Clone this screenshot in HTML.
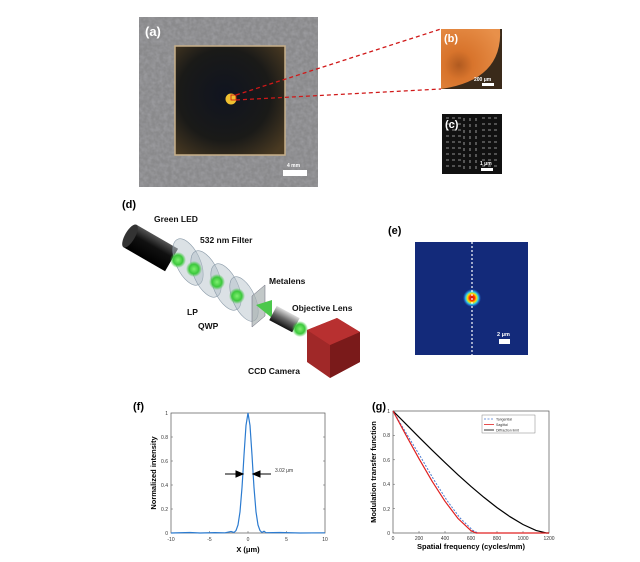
<!DOCTYPE html>
<html><head><meta charset="utf-8"><style>
html,body{margin:0;padding:0;background:#fff;}
svg{display:block;font-family:"Liberation Sans",sans-serif;}
</style></head><body>
<svg width="640" height="562" viewBox="0 0 640 562" xmlns="http://www.w3.org/2000/svg">
<defs>
<filter id="noise" x="0" y="0" width="100%" height="100%">
<feTurbulence type="fractalNoise" baseFrequency="0.25" numOctaves="2" seed="3"/>
<feColorMatrix type="matrix" values="0 0 0 0 0.35  0 0 0 0 0.35  0 0 0 0 0.37  1.4 0 0 0 -0.45"/>
</filter>
<radialGradient id="sample" cx="0.45" cy="0.45" r="0.7">
<stop offset="0" stop-color="#101420"/><stop offset="0.6" stop-color="#1a1a18"/><stop offset="1" stop-color="#4a3a22"/>
</radialGradient>
<radialGradient id="orange" cx="0.3" cy="0.6" r="0.8">
<stop offset="0" stop-color="#b05a20"/><stop offset="0.3" stop-color="#d8742c"/><stop offset="1" stop-color="#e8904a"/>
</radialGradient>
<radialGradient id="spot" cx="0.5" cy="0.5" r="0.5">
<stop offset="0" stop-color="#c01010"/><stop offset="0.3" stop-color="#ff3000"/><stop offset="0.5" stop-color="#ffe000"/><stop offset="0.7" stop-color="#30d0e0"/><stop offset="0.85" stop-color="#2060c0"/><stop offset="1" stop-color="#132a7a"/>
</radialGradient>
<radialGradient id="green" cx="0.5" cy="0.5" r="0.5">
<stop offset="0" stop-color="#7ff070"/><stop offset="0.6" stop-color="#3cc83c"/><stop offset="1" stop-color="#3cc83c" stop-opacity="0"/>
</radialGradient>
<linearGradient id="tube" x1="0" y1="0" x2="0" y2="1">
<stop offset="0" stop-color="#555"/><stop offset="0.4" stop-color="#111"/><stop offset="1" stop-color="#000"/>
</linearGradient>
<linearGradient id="tube2" x1="0" y1="0" x2="0" y2="1">
<stop offset="0" stop-color="#ddd"/><stop offset="0.5" stop-color="#666"/><stop offset="1" stop-color="#111"/>
</linearGradient>
</defs>

<!-- (a) -->
<rect x="139" y="17" width="179" height="170" fill="#8a8a8c"/>
<rect x="139" y="17" width="179" height="170" filter="url(#noise)"/>
<rect x="175" y="46" width="110" height="109" fill="url(#sample)" stroke="#c8b08a" stroke-width="1.5"/>
<circle cx="231" cy="99" r="5.5" fill="#f0c030"/>
<rect x="231" y="95" width="5" height="5" fill="none" stroke="#d01010" stroke-width="0.8"/>
<text x="145" y="36" font-size="13" font-weight="bold" fill="#fff">(a)</text>
<text x="287" y="167" font-size="5" font-weight="bold" fill="#fff">4 mm</text>
<rect x="283" y="170" width="24" height="6" fill="#fff"/>
<line x1="236" y1="95" x2="441" y2="29" stroke="#d01818" stroke-width="1.3" stroke-dasharray="4,3"/>
<line x1="236" y1="100" x2="441" y2="89" stroke="#d01818" stroke-width="1.3" stroke-dasharray="4,3"/>

<!-- (b) -->
<rect x="441" y="29" width="61" height="60" fill="#3a2a1a"/>
<path d="M441,29 L500,29 Q503,80 441,89 Z" fill="url(#orange)"/>
<text x="444" y="42" font-size="11" font-weight="bold" fill="#fff">(b)</text>
<text x="474" y="81" font-size="5" font-weight="bold" fill="#fff">200 μm</text>
<rect x="482" y="83" width="12" height="3" fill="#fff"/>

<!-- (c) -->
<rect x="442" y="114" width="60" height="60" fill="#111"/>
<g stroke="#bbb" stroke-width="0.8">
<path d="M446,130h3M452,130h3M458,130h3M464,130v3M470,130v3M476,130v3M482,130h3M488,130h3M494,130h3
M446,136h3M452,136h3M458,136h3M464,136v3M470,136v3M476,136v3M482,136h3M488,136h3M494,136h3
M446,142h3M452,142h3M458,142h3M464,142v3M470,142v3M476,142v3M482,142h3M488,142h3M494,142h3
M446,148h3M452,148h3M458,148h3M464,148v3M470,148v3M476,148v3M482,148h3M488,148h3M494,148h3
M446,154h3M452,154h3M458,154h3M464,154v3M470,154v3M476,154v3M482,154h3M488,154h3M494,154h3
M446,160h3M452,160h3M458,160h3M464,160v3M470,160v3M476,160v3M482,160h3M488,160h3M494,160h3
M446,166h3M452,166h3M458,166h3M464,166v3M470,166v3M476,166v3M482,166h3M488,166h3M494,166h3
M446,118h3M452,118h3M458,118h3M464,118v3M470,118v3M476,118v3M482,118h3M488,118h3M494,118h3
M446,124h3M452,124h3M458,124h3M464,124v3M470,124v3M476,124v3M482,124h3M488,124h3M494,124h3"/>
</g>
<text x="445" y="128" font-size="11" font-weight="bold" fill="#fff">(c)</text>
<text x="480" y="165" font-size="5" font-weight="bold" fill="#fff">1 μm</text>
<rect x="481" y="168" width="12" height="3" fill="#fff"/>

<!-- (d) -->
<text x="122" y="208" font-size="11" font-weight="bold">(d)</text>
<g transform="translate(130,236) rotate(30)">
<rect x="0" y="-13" width="48" height="26" fill="url(#tube)"/>
<ellipse cx="0" cy="0" rx="5" ry="13" fill="#333"/>
</g>
<g stroke="#8a9aa8" stroke-width="0.6" fill="#b0bcc6" fill-opacity="0.45">
<ellipse cx="188" cy="262" rx="12" ry="25" transform="rotate(-25 188 262)"/>
<ellipse cx="206" cy="274" rx="12" ry="25" transform="rotate(-25 206 274)"/>
<ellipse cx="226" cy="287" rx="12" ry="25" transform="rotate(-25 226 287)"/>
<ellipse cx="244" cy="299" rx="11" ry="24" transform="rotate(-25 244 299)"/>
</g>
<circle cx="178" cy="260" r="8" fill="url(#green)"/>
<circle cx="194" cy="269" r="8" fill="url(#green)"/>
<circle cx="217" cy="282" r="8" fill="url(#green)"/>
<circle cx="237" cy="296" r="8" fill="url(#green)"/>
<polygon points="252,296 265,285 265,316 252,327" fill="#a8b0b0" fill-opacity="0.7" stroke="#667" stroke-width="0.5"/>
<polygon points="256,305 272,300 272,318" fill="#4cc84c"/>
<g transform="translate(273,313) rotate(28)">
<rect x="0" y="-8" width="26" height="16" fill="url(#tube2)"/>
</g>
<circle cx="300" cy="329" r="8" fill="url(#green)"/>
<polygon points="307,330 337,318 360,332 360,362 330,378 307,362" fill="#a02828"/>
<polygon points="330,345 360,332 360,362 330,378" fill="#7a1a1a"/>
<polygon points="307,330 337,318 360,332 330,345" fill="#b83030"/>
<g font-size="8.5" font-weight="bold" fill="#111">
<text x="154" y="222">Green LED</text>
<text x="200" y="243">532 nm Filter</text>
<text x="269" y="284">Metalens</text>
<text x="292" y="311">Objective Lens</text>
<text x="187" y="315">LP</text>
<text x="198" y="329">QWP</text>
<text x="248" y="374">CCD Camera</text>
</g>

<!-- (e) -->
<text x="388" y="234" font-size="11" font-weight="bold">(e)</text>
<rect x="415" y="242" width="113" height="113" fill="#132a7a"/>
<circle cx="472" cy="298" r="9" fill="url(#spot)"/>
<line x1="472" y1="242" x2="472" y2="355" stroke="#fff" stroke-width="1.2" stroke-dasharray="2,2"/>
<text x="497" y="336" font-size="5.5" font-weight="bold" fill="#fff">2 μm</text>
<rect x="499" y="339" width="11" height="5" fill="#fff"/>

<!-- (f) -->
<text x="133" y="410" font-size="11" font-weight="bold">(f)</text>
<rect x="171" y="413" width="154" height="120" fill="#fff" stroke="#555" stroke-width="0.7"/>
<g font-size="5" fill="#333" text-anchor="end">
<text x="168" y="535">0</text><text x="168" y="511">0.2</text><text x="168" y="487">0.4</text><text x="168" y="463">0.6</text><text x="168" y="439">0.8</text><text x="168" y="415">1</text>
</g>
<g font-size="5" fill="#333" text-anchor="middle">
<text x="171" y="541">-10</text><text x="209.5" y="541">-5</text><text x="248" y="541">0</text><text x="286.5" y="541">5</text><text x="325" y="541">10</text>
</g>
<g stroke="#555" stroke-width="0.5">
<path d="M171,509h2M171,485h2M171,461h2M171,437h2M209.5,533v-2M248,533v-2M286.5,533v-2M325,509h-2M325,485h-2M325,461h-2M325,437h-2"/>
</g>
<text x="248" y="552" font-size="7.5" font-weight="bold" text-anchor="middle">X (μm)</text>
<text transform="translate(156,473) rotate(-90)" font-size="7.5" font-weight="bold" text-anchor="middle">Normalized intensity</text>
<polyline fill="none" stroke="#2b7bd0" stroke-width="1.2" points="171,533 190,532.5 200,533 215,532.6 225,532.8 231,531.5 234,532.5 236,530.6 238,525 240,511.8 242,487.6 243,471.9 244,455.1 246,425.4 248,413 250,425.4 252,455.1 253,471.9 254,487.6 256,511.8 258,525 260,530.6 262,532.5 264,531.2 266,532.7 280,532.5 300,533 325,532.8"/>
<g stroke="#000" stroke-width="1">
<line x1="225" y1="474" x2="238" y2="474"/><polygon points="243,474 236,471 236,477"/>
<line x1="271" y1="474" x2="258" y2="474"/><polygon points="253,474 260,471 260,477"/>
</g>
<text x="275" y="472" font-size="5" fill="#333">3.02 μm</text>

<!-- (g) -->
<text x="372" y="410" font-size="11" font-weight="bold">(g)</text>
<rect x="393" y="411" width="156" height="122" fill="#fff" stroke="#555" stroke-width="0.7"/>
<g font-size="5" fill="#333" text-anchor="end">
<text x="390" y="535">0</text><text x="390" y="511">0.2</text><text x="390" y="486">0.4</text><text x="390" y="462">0.6</text><text x="390" y="437">0.8</text><text x="390" y="413">1</text>
</g>
<g font-size="5" fill="#333" text-anchor="middle">
<text x="393" y="540">0</text><text x="419" y="540">200</text><text x="445" y="540">400</text><text x="471" y="540">600</text><text x="497" y="540">800</text><text x="523" y="540">1000</text><text x="549" y="540">1200</text>
</g>
<g stroke="#555" stroke-width="0.5">
<path d="M393,508.6h2M393,484.2h2M393,459.8h2M393,435.4h2M419,533v-2M445,533v-2M471,533v-2M497,533v-2M523,533v-2"/>
</g>
<text x="471" y="549" font-size="7.5" font-weight="bold" text-anchor="middle">Spatial frequency (cycles/mm)</text>
<text transform="translate(376,472) rotate(-90)" font-size="7.5" font-weight="bold" text-anchor="middle">Modulation transfer function</text>
<polyline fill="none" stroke="#000" stroke-width="1.2" points="393,411 406,424.1 419,437.2 432,450.1 445,462.6 458,474.8 471,486.4 484,497.4 497,507.6 510,516.7 523,524.5 536,530.4 546.4,533 549,533"/>
<polyline fill="none" stroke="#4a7ad0" stroke-width="1" stroke-dasharray="2,1.5" points="393,411 407,434.5 421,457.5 434,480 447,500.5 460,518 473,530.5 478,533 549,533"/>
<polyline fill="none" stroke="#e02020" stroke-width="1.2" points="393,411 406,435.2 419,458.7 432,481.1 445,501.3 458,518.5 471,530.7 476.2,533 549,533"/>
<rect x="482" y="415" width="53" height="18" fill="#fff" stroke="#666" stroke-width="0.4"/>
<line x1="484" y1="419" x2="494" y2="419" stroke="#4a7ad0" stroke-width="0.8" stroke-dasharray="2,1.5"/>
<line x1="484" y1="424.5" x2="494" y2="424.5" stroke="#e02020" stroke-width="0.8"/>
<line x1="484" y1="430" x2="494" y2="430" stroke="#000" stroke-width="0.8"/>
<g font-size="3.5" fill="#333">
<text x="496" y="420.5">Tangential</text><text x="496" y="426">Sagittal</text><text x="496" y="431.5">Diffraction limit</text>
</g>
</svg>
</body></html>
